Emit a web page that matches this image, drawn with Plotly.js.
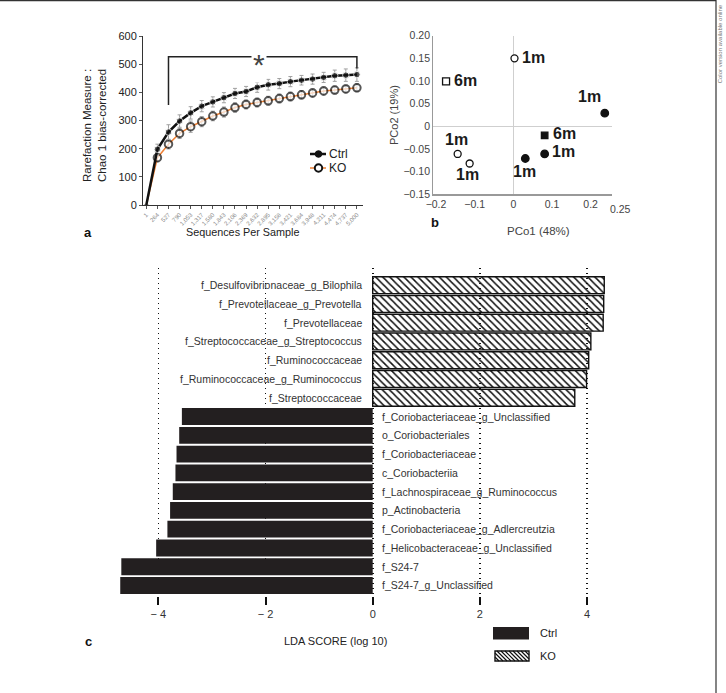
<!DOCTYPE html>
<html><head><meta charset="utf-8">
<script src="https://cdn.plot.ly/plotly-3.0.1.min.js"></script>
<style>html,body{margin:0;padding:0;background:#fff}#chart{width:726px;height:693px}</style>
</head><body><div id="chart"></div>
<script>
// ---------- Panel a: rarefaction (Chao 1) ----------
const seqLabels = ['1','264','527','790','1,053','1,317','1,580','1,843','2,106','2,369','2,632','2,895','3,158','3,421','3,684','3,948','4,211','4,474','4,737','5,000'];
const ctrlChao = [0,198,259,298,327,351,366,381,396,403,418,427,431,438,443,447,453,459,461,463];
const ctrlSD   = [0,18,26,22,22,20,18,18,18,18,18,19,18,18,17,18,18,20,22,24];
const koChao   = [0,168,216,254,278,296,316,330,346,357,364,370,378,385,391,398,405,408,412,416];
const koSD     = [0,15,17,18,20,18,17,18,17,16,16,16,16,16,15,15,15,14,14,14];
const sigFrom = 2, sigTo = 19, sigTop = 526, sigLeftLow = 355, sigRightLow = 485, sigStarAt = 10.2;

// ---------- Panel b: PCoA ----------
const pcoCtrl1mX = [0.2365, 0.081, 0.031];
const pcoCtrl1mY = [0.029, -0.061, -0.071];
const pcoCtrl6mX = [0.081];
const pcoCtrl6mY = [-0.020];
const pcoKO1mX = [0.003, -0.144, -0.113];
const pcoKO1mY = [0.150, -0.061, -0.082];
const pcoKO6mX = [-0.174];
const pcoKO6mY = [0.099];

// ---------- Panel c: LEfSe LDA ----------
const koTaxa = ['f_Desulfovibrionaceae_g_Bilophila','f_Prevotellaceae_g_Prevotella','f_Prevotellaceae','f_Streptococcaceae_g_Streptococcus','f_Ruminococcaceae','f_Ruminococcaceae_g_Ruminococcus','f_Streptococcaceae'];
const koLDA = [4.32, 4.31, 4.30, 4.07, 4.03, 3.99, 3.77];
const ctrlTaxa = ['f_Coriobacteriaceae_g_Unclassified','o_Coriobacteriales','f_Coriobacteriaceae','c_Coriobacteriia','f_Lachnospiraceae_g_Ruminococcus','p_Actinobacteria','f_Coriobacteriaceae_g_Adlercreutzia','f_Helicobacteraceae_g_Unclassified','f_S24-7','f_S24-7_g_Unclassified'];
const ctrlLDA = [-3.56, -3.61, -3.66, -3.68, -3.73, -3.78, -3.83, -4.04, -4.69, -4.71];
const ldaTicks = [-4, -2, 0, 2, 4];
const ldaTickText = ['\u2212 4', '\u2212 2', '0', '2', '4'];

// ---------- helpers ----------
const W = 726, H = 693;
const PX = v => v / W;
const PY = v => 1 - v / H;
const FONT = 'Liberation Sans, Arial, Helvetica, sans-serif';
const ORANGE = '#ee8136';

const idx = seqLabels.map((_, i) => i);
const traces = [];

traces.push({
  x: idx, y: koChao, xaxis: 'x', yaxis: 'y', mode: 'lines+markers', hoverinfo: 'skip',
  line: {color: ORANGE, width: 1.5},
  marker: {symbol: 'circle', color: '#fff', size: koChao.map((_, i) => i === 0 ? 0 : 7.5), line: {color: '#111', width: 2}},
  error_y: {type: 'data', array: koSD, visible: true, color: '#a0a0a0', thickness: 1, width: 2},
  cliponaxis: false
});
traces.push({
  x: idx, y: ctrlChao, xaxis: 'x', yaxis: 'y', mode: 'lines+markers', hoverinfo: 'skip',
  line: {color: '#111', width: 2.5},
  marker: {symbol: 'circle', color: '#111', size: ctrlChao.map((_, i) => i === 0 ? 0 : 6.5)},
  error_y: {type: 'data', array: ctrlSD, visible: true, color: '#a0a0a0', thickness: 1, width: 2},
  cliponaxis: false
});

// panel b
const pcoSets = [
  {x: pcoCtrl1mX, y: pcoCtrl1mY, label: '1m', sym: 'circle', fill: '#111', size: 7.5, shifts: [[-15,-17],[19,-2],[-1,13]]},
  {x: pcoCtrl6mX, y: pcoCtrl6mY, label: '6m', sym: 'square', fill: '#111', size: 6.5, shifts: [[20,-2]]},
  {x: pcoKO1mX, y: pcoKO1mY, label: '1m', sym: 'circle', fill: '#fff', size: 7, shifts: [[19,-1],[-1,-14],[-2,11]]},
  {x: pcoKO6mX, y: pcoKO6mY, label: '6m', sym: 'square', fill: '#fff', size: 7, shifts: [[19,-1]]}
];
pcoSets.forEach(s => traces.push({
  x: s.x, y: s.y, xaxis: 'x2', yaxis: 'y2', mode: 'markers', hoverinfo: 'skip', cliponaxis: false,
  marker: {symbol: s.sym, color: s.fill, size: s.size, line: {color: '#111', width: 1.3}}
}));

// panel c
traces.push({
  type: 'bar', orientation: 'h', xaxis: 'x3', yaxis: 'y3', hoverinfo: 'skip',
  x: koLDA, y: koTaxa.map((_, i) => i), width: 0.9,
  marker: {color: '#111', line: {color: '#111', width: 1.4}, pattern: {shape: '\\', size: 5, solidity: 0.3, fgcolor: '#111', fillmode: 'replace'}}
});
traces.push({
  type: 'bar', orientation: 'h', xaxis: 'x3', yaxis: 'y3', hoverinfo: 'skip',
  x: ctrlLDA, y: ctrlTaxa.map((_, i) => i + koTaxa.length), width: 0.9,
  marker: {color: '#231f20', line: {width: 0}}
});

// ---------- annotations ----------
const ann = [];
const txt = (x, y, text, opts) => Object.assign({xref: 'paper', yref: 'paper', x: PX(x), y: PY(y), text: text, showarrow: false, xanchor: 'center', yanchor: 'middle', font: {family: FONT, size: 11, color: '#222'}}, opts || {});

ann.push(txt(94, 126, 'Rarefaction Measure :<br>Chao 1 bias-corrected', {textangle: -90, font: {family: FONT, size: 11.5, color: '#222'}}));
ann.push(txt(242, 232, 'Sequences Per Sample', {font: {family: FONT, size: 10.8, color: '#222'}}));
ann.push(txt(88, 232, '<b>a</b>', {font: {family: FONT, size: 13, color: '#111'}}));
ann.push(txt(327, 154, 'Ctrl', {xanchor: 'left', font: {family: FONT, size: 12, color: '#222'}}));
ann.push(txt(327, 168, 'KO', {xanchor: 'left', font: {family: FONT, size: 12, color: '#222'}}));
ann.push({xref: 'x', yref: 'y', x: sigStarAt, y: sigTop, text: '*', showarrow: false, yshift: -8, bgcolor: '#fff', borderpad: 1,
  font: {family: FONT, size: 30, color: '#444'}});

ann.push(txt(394, 115, 'PCo2 (19%)', {textangle: -90, font: {family: FONT, size: 11, color: '#444'}}));
ann.push(txt(538, 231, 'PCo1 (48%)', {font: {family: FONT, size: 11.5, color: '#444'}}));
ann.push(txt(435, 222, '<b>b</b>', {font: {family: FONT, size: 13, color: '#111'}}));
ann.push({xref: 'x2', yref: 'paper', x: 0.25, y: PY(209), text: '0.25', showarrow: false, xanchor: 'left', yanchor: 'middle', xshift: -2,
  font: {family: FONT, size: 10.5, color: '#444'}});
pcoSets.forEach(s => s.x.forEach((xv, i) => ann.push({
  xref: 'x2', yref: 'y2', x: xv, y: s.y[i], text: '<b>' + s.label + '</b>', showarrow: false,
  xanchor: 'center', yanchor: 'middle', xshift: s.shifts[i][0], yshift: -s.shifts[i][1],
  font: {family: FONT, size: 16, color: '#1a1a1a'}
})));

koTaxa.forEach((t, i) => ann.push({xref: 'x3', yref: 'y3', x: 0, y: i, text: t, showarrow: false, xanchor: 'right', yanchor: 'middle', xshift: -9,
  font: {family: FONT, size: 10.5, color: '#333'}}));
ctrlTaxa.forEach((t, i) => ann.push({xref: 'x3', yref: 'y3', x: 0, y: i + koTaxa.length, text: t, showarrow: false, xanchor: 'left', yanchor: 'middle', xshift: 7,
  font: {family: FONT, size: 10.5, color: '#333'}}));
ann.push(txt(335, 641, 'LDA SCORE (log 10)', {font: {family: FONT, size: 11, color: '#222'}}));
ann.push(txt(88, 641, '<b>c</b>', {font: {family: FONT, size: 13, color: '#111'}}));
ann.push(txt(538, 633, 'Ctrl', {xanchor: 'left', font: {family: FONT, size: 11, color: '#222'}}));
ann.push(txt(538, 656, 'KO', {xanchor: 'left', font: {family: FONT, size: 11, color: '#222'}}));
ann.push(txt(720.3, 44, 'Color version available online', {textangle: -90, borderpad: 0, borderwidth: 0, font: {family: FONT, size: 6, color: '#777'}}));

// ---------- shapes ----------
const shapes = [];
// frame
shapes.push({type: 'line', xref: 'paper', yref: 'paper', x0: 0, x1: PX(716), y0: PY(0.6), y1: PY(0.6), line: {color: '#333', width: 1.3}});
shapes.push({type: 'line', xref: 'paper', yref: 'paper', x0: PX(716), x1: PX(716), y0: 0, y1: 1, line: {color: '#333', width: 1.2}});
// significance bracket
shapes.push({type: 'path', xref: 'x', yref: 'y', path: `M${sigFrom},${sigLeftLow} L${sigFrom},${sigTop} L${sigTo},${sigTop} L${sigTo},${sigRightLow}`, line: {color: '#222', width: 1.5}});
// legend a
shapes.push({type: 'line', xref: 'paper', yref: 'paper', x0: PX(310), x1: PX(326), y0: PY(154), y1: PY(154), line: {color: '#111', width: 2.5}});
shapes.push({type: 'circle', xref: 'paper', yref: 'paper', x0: PX(315.2), x1: PX(321.8), y0: PY(157.3), y1: PY(150.7), fillcolor: '#111', line: {color: '#111', width: 1}});
shapes.push({type: 'line', xref: 'paper', yref: 'paper', x0: PX(310), x1: PX(326), y0: PY(168), y1: PY(168), line: {color: ORANGE, width: 1.5}});
shapes.push({type: 'circle', xref: 'paper', yref: 'paper', x0: PX(314.8), x1: PX(322.2), y0: PY(171.7), y1: PY(164.3), fillcolor: '#fff', line: {color: '#111', width: 2}});
// legend c
shapes.push({type: 'rect', xref: 'paper', yref: 'paper', x0: PX(493), x1: PX(529), y0: PY(639.5), y1: PY(627), fillcolor: '#231f20', line: {width: 0}});
(function () {
  const l = 495, r = 529, t = 651, b = 661, h = b - t;
  let d = '';
  for (let x0 = l - h; x0 < r; x0 += 4) {
    let xs = x0, ys = t, xe = x0 + h, ye = b;
    if (xs < l) { ys = t + (l - xs); xs = l; }
    if (xe > r) { ye = t + (r - x0); xe = r; }
    if (xe <= xs) continue;
    d += `M${PX(xs)},${PY(ys)} L${PX(xe)},${PY(ye)} `;
  }
  shapes.push({type: 'path', xref: 'paper', yref: 'paper', path: d, line: {color: '#111', width: 1.2}});
  shapes.push({type: 'rect', xref: 'paper', yref: 'paper', x0: PX(l), x1: PX(r), y0: PY(b), y1: PY(t), line: {color: '#111', width: 1.4}});
})();

const layout = {
  width: W, height: H, margin: {l: 0, r: 0, t: 0, b: 0},
  paper_bgcolor: '#fff', plot_bgcolor: 'rgba(0,0,0,0)', showlegend: false, barmode: 'overlay',
  font: {family: FONT, size: 11, color: '#222'},
  xaxis: {domain: [PX(143), PX(363)], range: [-0.3, 19.55], anchor: 'y', tickmode: 'array', tickvals: idx, ticktext: seqLabels,
    tickangle: -45, tickfont: {family: FONT, size: 6, color: '#888'}, ticks: 'outside', ticklen: 3, tickcolor: '#555',
    showline: true, linecolor: '#333', linewidth: 1, showgrid: false, zeroline: false, fixedrange: true},
  yaxis: {domain: [PY(205), PY(36)], range: [0, 600], anchor: 'x', tickmode: 'array', tickvals: [0,100,200,300,400,500,600],
    tickfont: {family: FONT, size: 11, color: '#222'}, ticks: 'outside', ticklen: 3, tickcolor: '#555',
    showline: true, linecolor: '#333', linewidth: 1, showgrid: false, zeroline: false},
  xaxis2: {domain: [PX(433.3), PX(612.3)], range: [-0.207, 0.256], anchor: 'y2', tickmode: 'array', tickvals: [-0.2,-0.1,0,0.1,0.2],
    ticktext: ['\u22120.2','\u22120.1','0','0.1','0.2'], tickfont: {family: FONT, size: 10.5, color: '#444'}, ticks: '',
    showline: true, linecolor: '#999', linewidth: 1.2, showgrid: false, zeroline: true, zerolinecolor: '#cfcfcf', zerolinewidth: 1.5},
  yaxis2: {domain: [PY(194.3), PY(35.7)], range: [-0.15, 0.20], anchor: 'x2', tickmode: 'array', tickvals: [-0.15,-0.10,-0.05,0,0.05,0.10,0.15,0.20],
    ticktext: ['\u22120.15','\u22120.10','\u22120.05','0','0.05','0.10','0.15','0.20'], tickfont: {family: FONT, size: 10.5, color: '#444'}, ticks: '',
    showline: true, linecolor: '#999', linewidth: 1.2, showgrid: false, zeroline: true, zerolinecolor: '#cfcfcf', zerolinewidth: 1.5},
  xaxis3: {domain: [PX(104.7), PX(613.9)], range: [-5, 4.5], anchor: 'y3', tickmode: 'array', tickvals: ldaTicks, ticktext: ldaTickText,
    tickfont: {family: FONT, size: 11, color: '#333'}, ticks: 'outside', ticklen: 8, tickwidth: 2, tickcolor: '#111',
    showline: false, showgrid: true, griddash: '1.5px,3.5px', gridcolor: '#111', gridwidth: 1.6, zeroline: false},
  yaxis3: {domain: [PY(596), PY(267.7)], range: [16.56, -0.93], anchor: 'x3', showticklabels: false, ticks: '', showgrid: false, zeroline: false, showline: false},
  shapes: shapes,
  annotations: ann
};

Plotly.newPlot('chart', traces, layout, {staticPlot: true, displayModeBar: false});
</script>
</body></html>
